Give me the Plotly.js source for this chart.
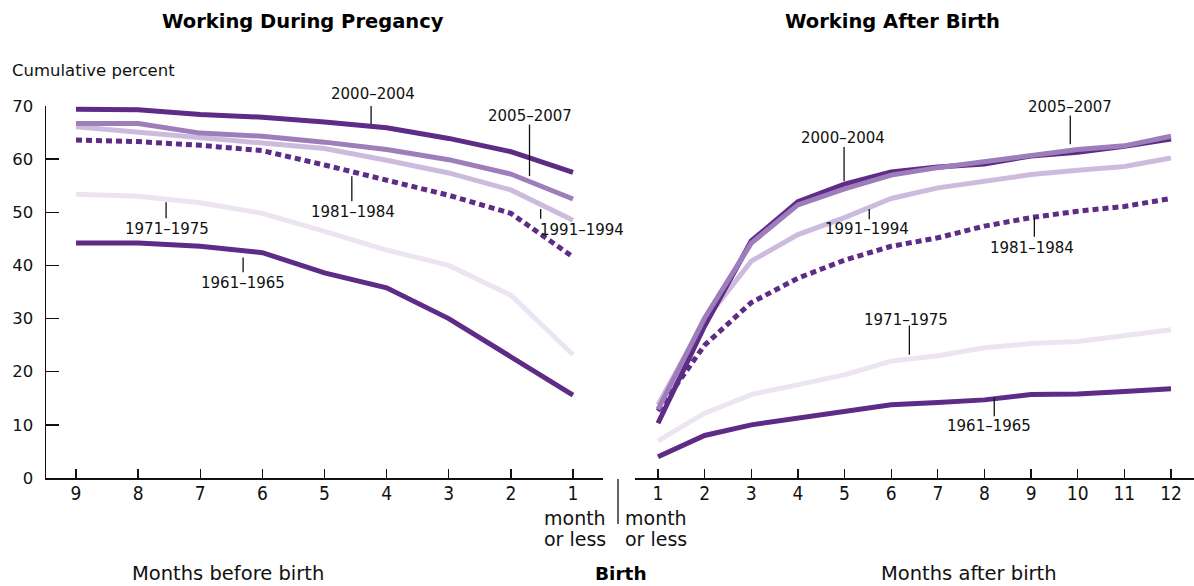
<!DOCTYPE html>
<html>
<head>
<meta charset="utf-8">
<script src="https://cdn.plot.ly/plotly-3.0.1.min.js"></script>
<style>html,body{margin:0;padding:0;background:#fff;}#chart{width:1194px;height:586px;}</style>
</head>
<body>
<div id="chart"></div>
<script>
// ---- data ----
const monthsBefore = [9, 8, 7, 6, 5, 4, 3, 2, 1];
const monthsAfter = [1, 2, 3, 4, 5, 6, 7, 8, 9, 10, 11, 12];
const beforeTickText = ['9', '8', '7', '6', '5', '4', '3', '2', '1'];
const afterTickText = ['1', '2', '3', '4', '5', '6', '7', '8', '9', '10', '11', '12'];
const yTicks = [0, 10, 20, 30, 40, 50, 60, 70];

const seriesNames = ['1971–1975', '1991–1994', '1981–1984', '1961–1965', '2000–2004', '2005–2007'];

const before1961 = [44.2, 44.2, 43.6, 42.4, 38.6, 35.8, 30.0, 22.8, 15.6];
const before1971 = [53.4, 53.0, 51.8, 49.8, 46.4, 42.9, 40.0, 34.4, 23.2];
const before1981 = [63.6, 63.3, 62.6, 61.6, 58.9, 56.0, 53.2, 49.8, 41.6];
const before1991 = [66.1, 65.1, 64.2, 63.2, 62.0, 59.8, 57.4, 54.2, 48.5];
const before2000 = [69.4, 69.3, 68.4, 67.9, 67.0, 65.9, 63.9, 61.4, 57.5];
const before2005 = [66.7, 66.7, 64.9, 64.3, 63.2, 61.8, 59.9, 57.2, 52.5];

const after1961 = [4.0, 8.0, 10.0, 11.3, 12.4, 13.8, 14.2, 14.7, 15.7, 15.8, 16.3, 16.8];
const after1971 = [7.0, 12.2, 15.7, 17.5, 19.4, 22.0, 23.0, 24.5, 25.3, 25.7, 26.8, 27.9];
const after1981 = [12.6, 25.0, 33.0, 37.6, 41.0, 43.6, 45.2, 47.4, 49.0, 50.2, 51.1, 52.6];
const after1991 = [13.8, 29.6, 40.8, 45.8, 49.0, 52.6, 54.6, 55.9, 57.1, 57.9, 58.6, 60.2];
const after2000 = [10.3, 28.6, 44.6, 52.0, 55.3, 57.6, 58.5, 59.1, 60.6, 61.3, 62.4, 63.8];
const after2005 = [12.9, 30.1, 44.2, 51.4, 54.4, 57.0, 58.4, 59.6, 60.8, 61.8, 62.5, 64.3];

// label text, text position (month, value), leader line (month, from, to)
const leftLabels = [
  {text: '2000–2004', x: 4.22, y: 72.2, lx: 4.25, ly0: 70.3, ly1: 66.6, anchor: 'center'},
  {text: '2005–2007', x: 1.69, y: 68.2, lx: 1.70, ly0: 66.5, ly1: 56.8, anchor: 'center'},
  {text: '1981–1984', x: 4.54, y: 50.1, lx: 4.56, ly0: 56.8, ly1: 52.1, anchor: 'center'},
  {text: '1971–1975', x: 7.53, y: 46.9, lx: 7.55, ly0: 51.9, ly1: 48.9, anchor: 'center'},
  {text: '1991–1994', x: 1.56, y: 46.7, lx: 1.52, ly0: 50.6, ly1: 48.8, anchor: 'left'},
  {text: '1961–1965', x: 6.31, y: 36.7, lx: 6.31, ly0: 41.5, ly1: 38.7, anchor: 'center'}
];
const rightLabels = [
  {text: '2000–2004', x: 4.97, y: 63.9, lx: 4.99, ly0: 62.3, ly1: 55.9, anchor: 'center'},
  {text: '2005–2007', x: 9.84, y: 69.9, lx: 9.84, ly0: 68.2, ly1: 62.8, anchor: 'center'},
  {text: '1991–1994', x: 5.48, y: 46.9, lx: 5.53, ly0: 50.6, ly1: 48.7, anchor: 'center'},
  {text: '1981–1984', x: 9.03, y: 43.3, lx: 9.07, ly0: 49.0, ly1: 45.4, anchor: 'center'},
  {text: '1971–1975', x: 6.32, y: 29.7, lx: 6.39, ly0: 28.7, ly1: 23.2, anchor: 'center'},
  {text: '1961–1965', x: 8.10, y: 9.7, lx: 8.21, ly0: 15.2, ly1: 11.6, anchor: 'center'}
];

// ---- styles ----
const FONT = "'DejaVu Sans', Verdana, sans-serif";
const COND = "'DejaVu Sans Condensed', 'DejaVu Sans', sans-serif";
const styles = {
  '1961–1965': {color: '#5e2b86', dash: 'solid'},
  '1971–1975': {color: '#ece5f1', dash: 'solid'},
  '1981–1984': {color: '#5e2b86', dash: '6px,4px'},
  '1991–1994': {color: '#cdbbde', dash: 'solid'},
  '2000–2004': {color: '#5e2b86', dash: 'solid'},
  '2005–2007': {color: '#9e7dbb', dash: 'solid'}
};
const beforeData = {
  '1961–1965': before1961, '1971–1975': before1971, '1981–1984': before1981,
  '1991–1994': before1991, '2000–2004': before2000, '2005–2007': before2005
};
const afterData = {
  '1961–1965': after1961, '1971–1975': after1971, '1981–1984': after1981,
  '1991–1994': after1991, '2000–2004': after2000, '2005–2007': after2005
};

const traces = [];
seriesNames.forEach(n => {
  traces.push({x: monthsBefore, y: beforeData[n], xaxis: 'x', yaxis: 'y', mode: 'lines', name: n,
    line: {color: styles[n].color, width: 5, dash: styles[n].dash}, hoverinfo: 'skip'});
});
seriesNames.forEach(n => {
  traces.push({x: monthsAfter, y: afterData[n], xaxis: 'x2', yaxis: 'y2', mode: 'lines', name: n,
    line: {color: styles[n].color, width: 5, dash: styles[n].dash}, hoverinfo: 'skip'});
});

const Y_MAX = 70;
const annotations = [];
const shapes = [];
function addLabels(list, xr, yr) {
  list.forEach(l => {
    annotations.push({text: l.text, x: l.x, y: l.y / Y_MAX, xref: xr, yref: 'paper', showarrow: false,
      xanchor: l.anchor, yanchor: 'middle', font: {family: FONT, size: 15, color: '#111'}});
    shapes.push({type: 'line', xref: xr, yref: yr, x0: l.lx, x1: l.lx, y0: l.ly0, y1: l.ly1,
      line: {color: '#111', width: 1.3}});
  });
}
addLabels(leftLabels, 'x', 'y');
addLabels(rightLabels, 'x2', 'y2');

const TOP = 106, BOTTOM = 478;
function py(p) { return (BOTTOM - p) / (BOTTOM - TOP); } // pixel row -> paper y
function px(p) { return p / 1194; }

function note(text, x, y, xanchor, size, color) {
  return {text: text, xref: 'paper', yref: 'paper', x: px(x), y: py(y), showarrow: false,
    xanchor: xanchor, yanchor: 'middle', borderpad: 0, font: {family: FONT, size: size, color: color || '#111'}};
}

annotations.push(
  note('<b>Working During Pregancy</b>', 303, 21, 'center', 19.5, '#000'),
  note('<b>Working After Birth</b>', 892, 22, 'center', 19.5, '#000'),
  note('Cumulative percent', 11, 70, 'left', 16.5),
  note('month', 607, 518, 'right', 19),
  note('or less', 607, 539, 'right', 19),
  note('month', 624, 518, 'left', 19),
  note('or less', 624, 539, 'left', 19),
  note('Months before birth', 228, 573, 'center', 19.5),
  note('<b>Birth</b>', 621, 573, 'center', 18.5, '#000'),
  note('Months after birth', 969, 573, 'center', 19.5)
);
shapes.push({type: 'line', xref: 'paper', yref: 'paper', x0: px(618), x1: px(618), y0: py(479), y1: py(524), line: {color: '#111', width: 1.3}});

const axisCommon = {showgrid: false, zeroline: false, showline: true, linecolor: '#111', linewidth: 1.5,
  ticks: 'inside', tickcolor: '#111', tickwidth: 1.3, tickfont: {family: COND, size: 19, color: '#111'}, fixedrange: true};

const layout = {
  width: 1194, height: 586,
  margin: {l: 0, r: 0, t: TOP, b: 586 - BOTTOM},
  paper_bgcolor: '#fff', plot_bgcolor: 'rgba(0,0,0,0)',
  showlegend: false,
  xaxis: Object.assign({}, axisCommon, {domain: [px(46), px(603)], range: [9.483, 0.517], tickmode: 'array', tickvals: monthsBefore, ticktext: beforeTickText, ticklen: 9, ticklabelstandoff: -2, anchor: 'y'}),
  yaxis: Object.assign({}, axisCommon, {domain: [0, 1], range: [0, Y_MAX], tickmode: 'array', tickvals: yTicks, ticklen: 13, ticklabelstandoff: 8, tickfont: {family: FONT, size: 16.5, color: '#111'}, anchor: 'x'}),
  xaxis2: Object.assign({}, axisCommon, {domain: [px(635), 1], range: [0.507, 12.493], tickmode: 'array', tickvals: monthsAfter, ticktext: afterTickText, ticklen: 9, ticklabelstandoff: -2, anchor: 'y2'}),
  yaxis2: {domain: [0, 1], range: [0, Y_MAX], visible: false, anchor: 'x2', fixedrange: true},
  annotations: annotations,
  shapes: shapes
};

Plotly.newPlot('chart', traces, layout, {displayModeBar: false, staticPlot: true});
</script>
</body>
</html>
